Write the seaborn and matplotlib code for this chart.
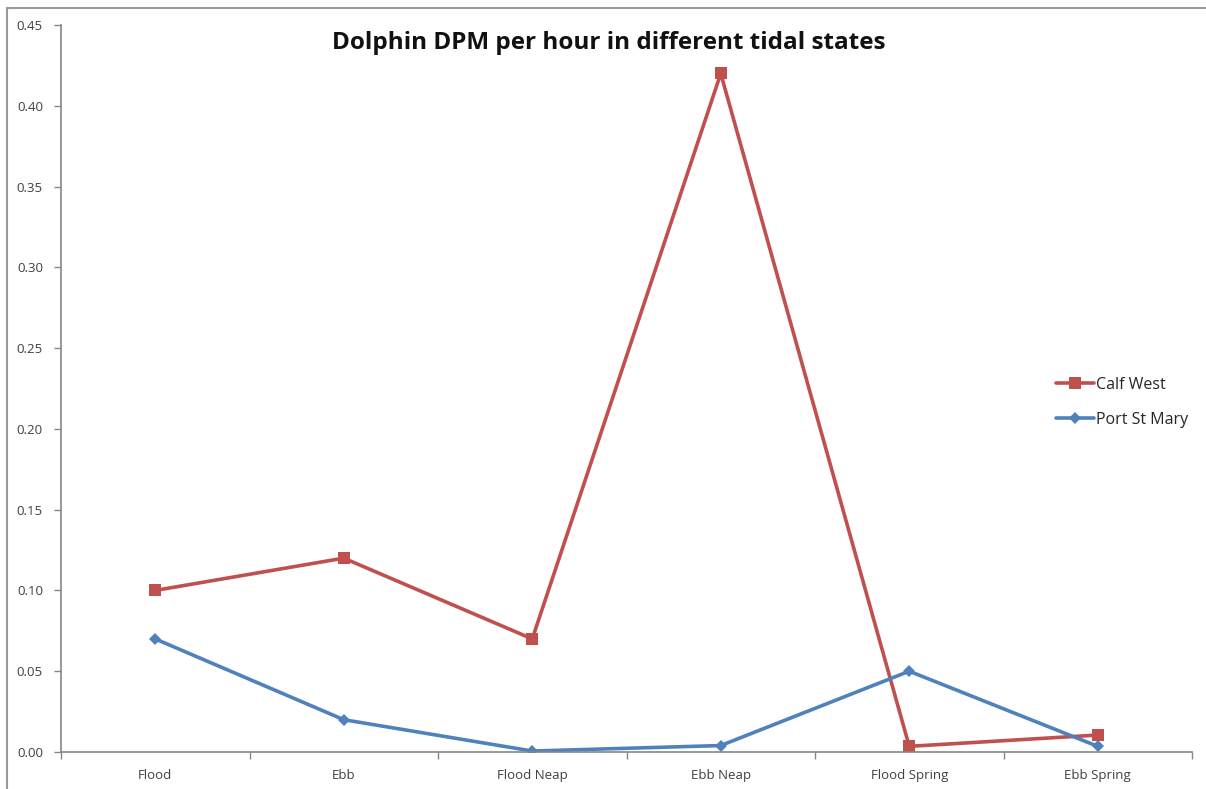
import matplotlib
matplotlib.use("Agg")
import matplotlib.pyplot as plt
import seaborn as sns
import pandas as pd
from matplotlib.lines import Line2D
from matplotlib.ticker import FormatStrFormatter

# data
tidal_states = ["Flood", "Ebb", "Flood Neap", "Ebb Neap", "Flood Spring", "Ebb Spring"]
calf_west = [0.100, 0.120, 0.070, 0.420, 0.0035, 0.0105]
port_st_mary = [0.070, 0.020, 0.0006, 0.004, 0.050, 0.0035]
y_ticks = [0.00, 0.05, 0.10, 0.15, 0.20, 0.25, 0.30, 0.35, 0.40, 0.45]

df = pd.DataFrame({
    "state": tidal_states * 2,
    "dpm": calf_west + port_st_mary,
    "site": ["Calf West"] * 6 + ["Port St Mary"] * 6,
})
df["x"] = df["state"].map({s: i for i, s in enumerate(tidal_states)})

sns.set_style("white")
plt.rcParams["font.family"] = ["Open Sans", "DejaVu Sans"]

fig = plt.figure(figsize=(12.06, 7.89), dpi=100)
ax = fig.add_axes([61 / 1206, 37 / 789, 1131 / 1206, 727 / 789])

palette = {"Calf West": "#C0504D", "Port St Mary": "#4F81BD"}
sns.lineplot(data=df, x="x", y="dpm", hue="site", style="site",
             markers={"Calf West": "s", "Port St Mary": "D"},
             dashes=False, palette=palette, linewidth=2.6,
             markersize=8, markeredgewidth=0, ax=ax)
# make the diamond a bit smaller, like Excel's
for line in ax.get_lines():
    if line.get_marker() == "D":
        line.set_markersize(6.5)

ax.set_xlim(-0.5, len(tidal_states) - 0.5)
ax.set_ylim(0, 0.45)
ax.set_yticks(y_ticks)
ax.yaxis.set_major_formatter(FormatStrFormatter("%.2f"))
ax.set_xticks(range(len(tidal_states)))
ax.set_xticklabels(tidal_states)
# category boundary tick marks
ax.set_xticks([i - 0.5 for i in range(len(tidal_states) + 1)], minor=True)
ax.tick_params(axis="x", which="major", length=0, labelsize=9.5, colors="#404040", pad=12)
ax.tick_params(axis="x", which="minor", length=5, width=1, color="#868686", direction="out",
               bottom=True)
ax.tick_params(axis="y", length=5, width=1, color="#868686", direction="out", left=True,
               labelsize=9.5, labelcolor="#404040", pad=8)

for side in ["top", "right"]:
    ax.spines[side].set_visible(False)
for side in ["left", "bottom"]:
    ax.spines[side].set_color("#868686")
    ax.spines[side].set_linewidth(1.2)

ax.set_xlabel("")
ax.set_ylabel("")

fig.text(0.505, 0.946, "Dolphin DPM per hour in different tidal states",
         ha="center", va="center", fontsize=17.5, fontweight="bold", color="#111111")

handles, labels = ax.get_legend_handles_labels()
ax.legend(handles, labels, loc="center left", bbox_to_anchor=(0.874, 0.481),
          frameon=False, fontsize=11.5, handlelength=2.4, handletextpad=0.1,
          labelspacing=1.2, borderaxespad=0)

# outer chart frame (top and left edges visible)
fig.add_artist(Line2D([7 / 1206, 1.0], [1 - 8 / 789, 1 - 8 / 789],
                      transform=fig.transFigure, color="#9a9a9a", linewidth=1.5))
fig.add_artist(Line2D([7 / 1206, 7 / 1206], [0.0, 1 - 8 / 789],
                      transform=fig.transFigure, color="#9a9a9a", linewidth=1.5))

fig.savefig("out.png", dpi=100)
